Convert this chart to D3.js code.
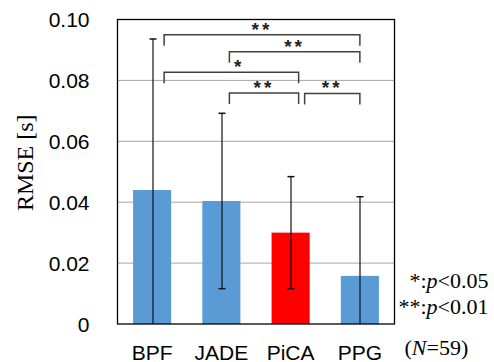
<!DOCTYPE html>
<html>
<head>
<meta charset="utf-8">
<script src="https://cdn.jsdelivr.net/npm/d3@7"></script>
<style>
  body { margin: 0; background: #fff; }
  svg { display: block; }
  .sans { font-family: "Liberation Sans", Arial, sans-serif; }
  .serif { font-family: "Liberation Serif", "Times New Roman", serif; }
</style>
</head>
<body>
<div id="chart"></div>
<script>
var methods = ["BPF", "JADE", "PiCA", "PPG"];
var rmse = [0.0440, 0.0404, 0.0300, 0.0158];
var sd = [0.0496, 0.0288, 0.0184, 0.0260];
var barColors = ["#5b9bd5", "#5b9bd5", "#ff0000", "#5b9bd5"];
var yTicks = [0, 0.02, 0.04, 0.06, 0.08, 0.10];

// significance brackets: from method, to method, height (in RMSE units), label
var brFrom = ["BPF", "JADE", "BPF", "JADE", "PiCA"];
var brTo = ["PPG", "PPG", "PiCA", "PiCA", "PPG"];
var brLevel = [0.0950, 0.0894, 0.0827, 0.0759, 0.0757];
var brLabel = ["**", "**", "*", "**", "**"];

document.addEventListener("DOMContentLoaded", function () {
  var W = 494, H = 362;
  var margin = {top: 19.5, right: 99.5, bottom: 38, left: 117.5},
      width = W - margin.left - margin.right,
      height = H - margin.top - margin.bottom;

  var svg = d3.select("#chart").append("svg")
      .attr("width", W)
      .attr("height", H)
      .append("g")
      .attr("transform", "translate(" + margin.left + "," + margin.top + ")");

  var x = d3.scaleBand()
      .domain(methods)
      .range([0, width])
      .paddingInner(0.45)
      .paddingOuter(0.225);

  var y = d3.scaleLinear()
      .domain([0, 0.10])
      .range([height, 0]);

  // gridlines
  svg.selectAll(".grid")
    .data(yTicks.filter(function(d) { return d > 0 && d < 0.1; }))
    .enter().append("line")
    .attr("x1", 0).attr("x2", width)
    .attr("y1", function(d) { return y(d); })
    .attr("y2", function(d) { return y(d); })
    .style("stroke", "#a6a6a6")
    .style("stroke-width", 1);

  // y axis labels
  var yAxis = d3.axisLeft(y)
      .tickValues(yTicks)
      .tickSize(0)
      .tickPadding(28)
      .tickFormat(function(d) { return d === 0 ? "0" : d.toFixed(2); });

  var ya = svg.append("g").attr("class", "sans").call(yAxis);
  ya.select(".domain").remove();
  ya.selectAll("text").style("font-size", "21px").style("fill", "#000")
    .attr("dy", "0.35em");

  // bars
  svg.selectAll(".bar")
    .data(methods)
    .enter().append("rect")
    .attr("x", function(d) { return x(d); })
    .attr("width", x.bandwidth())
    .attr("y", function(d, i) { return y(rmse[i]); })
    .attr("height", function(d, i) { return height - y(rmse[i]); })
    .style("fill", function(d, i) { return barColors[i]; });

  // error bars
  var cap = 3.5;
  methods.forEach(function(m, i) {
    var cx = Math.round(x(m) + x.bandwidth() / 2) + 0.5;
    var hi = rmse[i] + sd[i], lo = Math.max(0, rmse[i] - sd[i]);
    svg.append("line")
      .attr("x1", cx).attr("x2", cx)
      .attr("y1", y(hi)).attr("y2", y(lo))
      .style("stroke", "#111").style("stroke-width", 1.2);
    svg.append("line")
      .attr("x1", cx - cap).attr("x2", cx + cap)
      .attr("y1", y(hi)).attr("y2", y(hi))
      .style("stroke", "#111").style("stroke-width", 1.5);
    if (rmse[i] - sd[i] > 0) {
      svg.append("line")
        .attr("x1", cx - cap).attr("x2", cx + cap)
        .attr("y1", y(lo)).attr("y2", y(lo))
        .style("stroke", "#111").style("stroke-width", 1.5);
    }
  });

  // frame
  svg.append("rect")
    .attr("x", 0).attr("y", 0)
    .attr("width", width).attr("height", height)
    .style("fill", "none")
    .style("stroke", "#000")
    .style("stroke-width", 1.3);

  // significance brackets
  var leftOff = {BPF: 12, JADE: 8, PiCA: 14};
  var rightOff = {PiCA: 8, PPG: 0};
  brFrom.forEach(function(a, i) {
    var b = brTo[i];
    var x0 = x(a) + x.bandwidth() / 2 + leftOff[a];
    var x1 = x(b) + x.bandwidth() / 2 + rightOff[b];
    var yy = y(brLevel[i]);
    var drop = 11;
    svg.append("path")
      .attr("d", "M" + x0 + "," + (yy + drop) + "V" + yy + "H" + x1 + "V" + (yy + drop))
      .style("fill", "none")
      .style("stroke", "#404040")
      .style("stroke-width", 1.5);
    var tx = brLabel[i] === "*" ? x0 + 0.5 * (x1 - x0) * 0.55 + 38 : (x0 + x1) / 2;
    svg.append("text")
      .attr("class", "sans")
      .attr("x", tx)
      .attr("y", yy + 1)
      .attr("text-anchor", "middle")
      .style("font-size", "19px")
      .style("font-weight", "bold")
      .style("letter-spacing", "3px")
      .style("fill", "#222")
      .text(brLabel[i]);
  });

  // x labels
  svg.selectAll(".xlab")
    .data(methods)
    .enter().append("text")
    .attr("class", "sans")
    .attr("x", function(d) { return x(d) + x.bandwidth() / 2; })
    .attr("y", height + 35.5)
    .attr("text-anchor", "middle")
    .style("font-size", "21px")
    .text(function(d) { return d; });

  // y label
  svg.append("text")
    .attr("class", "serif")
    .attr("transform", "translate(" + (-85) + "," + (height / 2 - 9) + ") rotate(-90)")
    .attr("text-anchor", "middle")
    .style("font-size", "24px")
    .text("RMSE [s]");

  // legend of significance
  var lg = svg.append("g").attr("class", "serif").style("font-size", "22px");
  var t1 = lg.append("text").attr("x", width + 94).attr("y", 268).attr("text-anchor", "end");
  t1.append("tspan").text("*:");
  t1.append("tspan").style("font-style", "italic").text("p");
  t1.append("tspan").text("<0.05");
  var t2 = lg.append("text").attr("x", width + 94).attr("y", 294).attr("text-anchor", "end");
  t2.append("tspan").text("**:");
  t2.append("tspan").style("font-style", "italic").text("p");
  t2.append("tspan").text("<0.01");
  var t3 = lg.append("text").attr("x", width + 10).attr("y", 335.5);
  t3.append("tspan").text("(");
  t3.append("tspan").style("font-style", "italic").text("N");
  t3.append("tspan").text("=59)");
});
</script>
</body>
</html>
